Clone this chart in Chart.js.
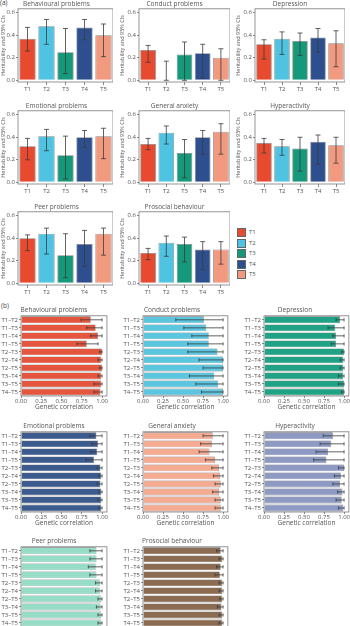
<!DOCTYPE html>
<html>
<head>
<meta charset="utf-8">
<script src="https://cdn.jsdelivr.net/npm/chart.js@4.4.1/dist/chart.umd.min.js"></script>
<style>
  body { margin:0; background:#fff; width:350px; height:626px; overflow:hidden; position:relative; font-family:"Open Sans", sans-serif; color:#555; }
  canvas { position:absolute; }
  .tag { position:absolute; font-size:6.5px; color:#444; line-height:8px; }
  .key { position:absolute; width:7px; height:7px; border:0.8px solid #666; }
  .keytxt { position:absolute; font-size:6px; line-height:8px; color:#555; }
</style>
</head>
<body>
<div class="tag" style="left:0;top:-1px">(a)</div>
<div class="tag" style="left:1px;top:302px">(b)</div>
<div id="legend"></div>
<div id="charts"></div>
<script>
// ---- (a) heritability by time point ----
const timepoints = ['T1', 'T2', 'T3', 'T4', 'T5'];
const tpColors = ['#e84a30', '#4fc3e2', '#16987a', '#2d4f8e', '#f29a80'];
const traits = ['Behavioural problems', 'Conduct problems', 'Depression', 'Emotional problems',
  'General anxiety', 'Hyperactivity', 'Peer problems', 'Prosocial behaviour'];
const herTicks = [0, 0.2, 0.4, 0.6];

const herEst = [
  [0.37, 0.48, 0.25, 0.47, 0.40],
  [0.27, 0.00, 0.23, 0.24, 0.20],
  [0.32, 0.37, 0.35, 0.38, 0.33],
  [0.32, 0.41, 0.24, 0.40, 0.41],
  [0.34, 0.44, 0.26, 0.40, 0.45],
  [0.35, 0.32, 0.30, 0.36, 0.33],
  [0.40, 0.44, 0.25, 0.35, 0.44],
  [0.27, 0.36, 0.35, 0.30, 0.30]
];
const herLo = [
  [0.26, 0.32, 0.06, 0.36, 0.21],
  [0.16, 0.00, 0.00, 0.02, 0.00],
  [0.19, 0.23, 0.22, 0.25, 0.12],
  [0.20, 0.28, 0.03, 0.31, 0.21],
  [0.29, 0.34, 0.04, 0.25, 0.25],
  [0.26, 0.24, 0.10, 0.16, 0.17],
  [0.29, 0.26, 0.05, 0.15, 0.25],
  [0.21, 0.24, 0.19, 0.12, 0.17]
];
const herHi = [
  [0.47, 0.54, 0.46, 0.54, 0.50],
  [0.31, 0.17, 0.34, 0.32, 0.28],
  [0.36, 0.43, 0.42, 0.46, 0.44],
  [0.39, 0.47, 0.41, 0.46, 0.48],
  [0.39, 0.50, 0.38, 0.46, 0.52],
  [0.39, 0.38, 0.40, 0.42, 0.40],
  [0.43, 0.49, 0.44, 0.47, 0.49],
  [0.31, 0.42, 0.41, 0.37, 0.37]
];

// ---- (b) genetic correlations between time points ----
const pairs = ['T1–T2', 'T1–T3', 'T1–T4', 'T1–T5', 'T2–T3', 'T2–T4', 'T2–T5', 'T3–T4', 'T3–T5', 'T4–T5'];
const rgColors = ['#e5563f', '#5cc5df', '#1fa384', '#3c5b8f', '#f5ab92', '#8d9bc4', '#97dcc6', '#8b6b51'];
const rgTicks = [0, 0.25, 0.5, 0.75, 1];

const rgEst = [
  [0.86, 0.92, 0.95, 0.81, 1.00, 0.99, 1.00, 0.99, 0.99, 0.98],
  [0.76, 0.79, 0.82, 0.82, 0.93, 1.00, 1.00, 0.89, 0.94, 1.00],
  [0.95, 0.89, 0.90, 0.90, 1.00, 0.99, 0.99, 0.99, 1.00, 1.00],
  [0.93, 0.95, 0.94, 0.90, 0.98, 0.99, 0.98, 0.99, 0.99, 0.99],
  [0.87, 0.86, 0.83, 0.90, 0.95, 0.96, 0.97, 0.95, 0.97, 0.97],
  [0.86, 0.84, 0.80, 0.78, 1.00, 0.96, 0.95, 0.98, 0.97, 0.99],
  [0.93, 0.93, 0.92, 0.93, 0.97, 0.97, 0.99, 0.98, 0.99, 0.99],
  [0.97, 0.99, 0.97, 0.96, 0.99, 0.99, 0.99, 0.98, 0.99, 0.99]
];
const rgLo = [
  [0.74, 0.81, 0.86, 0.69, 0.97, 0.95, 0.97, 0.95, 0.90, 0.90],
  [0.41, 0.51, 0.61, 0.56, 0.56, 0.70, 0.75, 0.58, 0.66, 0.73],
  [0.90, 0.80, 0.86, 0.84, 0.97, 0.95, 0.95, 0.93, 0.93, 0.97],
  [0.85, 0.87, 0.86, 0.80, 0.94, 0.96, 0.94, 0.96, 0.95, 0.96],
  [0.75, 0.72, 0.70, 0.78, 0.86, 0.88, 0.90, 0.87, 0.90, 0.90],
  [0.74, 0.70, 0.65, 0.62, 0.93, 0.88, 0.86, 0.92, 0.90, 0.93],
  [0.85, 0.85, 0.83, 0.85, 0.92, 0.92, 0.95, 0.93, 0.95, 0.95],
  [0.92, 0.95, 0.92, 0.90, 0.95, 0.95, 0.96, 0.93, 0.95, 0.95]
];
const rgHi = [
  [1.00, 1.00, 1.00, 0.95, 1.00, 1.00, 1.00, 1.00, 1.00, 1.00],
  [1.00, 1.00, 1.00, 1.00, 1.00, 1.00, 1.00, 1.00, 1.00, 1.00],
  [1.00, 1.00, 1.00, 1.00, 1.00, 1.00, 1.00, 1.00, 1.00, 1.00],
  [1.00, 1.00, 1.00, 1.00, 1.00, 1.00, 1.00, 1.00, 1.00, 1.00],
  [1.00, 1.00, 1.00, 1.00, 1.00, 1.00, 1.00, 1.00, 1.00, 1.00],
  [1.00, 1.00, 1.00, 1.00, 1.00, 1.00, 1.00, 1.00, 1.00, 1.00],
  [1.00, 1.00, 1.00, 1.00, 1.00, 1.00, 1.00, 1.00, 1.00, 1.00],
  [1.00, 1.00, 1.00, 1.00, 1.00, 1.00, 1.00, 1.00, 1.00, 1.00]
];

Chart.defaults.font.family = '"Open Sans", "DejaVu Sans", sans-serif';
Chart.defaults.color = '#555';
Chart.defaults.animation = false;

// box round the plot area
const frameBox = {
  id: 'frameBox',
  afterDatasetsDraw(chart) {
    const a = chart.chartArea, ctx = chart.ctx;
    ctx.save();
    ctx.strokeStyle = '#7a7a7a';
    ctx.lineWidth = 0.8;
    ctx.strokeRect(a.left, a.top, a.right - a.left, a.bottom - a.top);
    ctx.restore();
  }
};

// confidence intervals, drawn from the value scale
const errBars = {
  id: 'errBars',
  afterDatasetsDraw(chart, args, opts) {
    if (!opts || !opts.lo) return;
    const horiz = chart.options.indexAxis === 'y';
    const vs = horiz ? chart.scales.x : chart.scales.y;
    const meta = chart.getDatasetMeta(0);
    const ctx = chart.ctx;
    ctx.save();
    ctx.strokeStyle = '#3b3b3b';
    ctx.lineWidth = 0.8;
    meta.data.forEach((bar, i) => {
      const a = vs.getPixelForValue(opts.lo[i]);
      const b = vs.getPixelForValue(opts.hi[i]);
      const c = horiz ? bar.y : bar.x;
      const cap = opts.cap;
      ctx.beginPath();
      if (horiz) {
        ctx.moveTo(a, c); ctx.lineTo(b, c);
        ctx.moveTo(a, c - cap); ctx.lineTo(a, c + cap);
        ctx.moveTo(b, c - cap); ctx.lineTo(b, c + cap);
      } else {
        ctx.moveTo(c, a); ctx.lineTo(c, b);
        ctx.moveTo(c - cap, a); ctx.lineTo(c + cap, a);
        ctx.moveTo(c - cap, b); ctx.lineTo(c + cap, b);
      }
      ctx.stroke();
    });
    ctx.restore();
  }
};

function addCanvas(left, top, w, h) {
  const c = document.createElement('canvas');
  c.width = w; c.height = h;
  c.style.left = left + 'px';
  c.style.top = top + 'px';
  document.getElementById('charts').appendChild(c);
  return c;
}

function makeHer(k, left, top, w, yw) {
  const cv = addCanvas(left, top, w, 95);
  new Chart(cv, {
    type: 'bar',
    data: {
      labels: timepoints,
      datasets: [{
        data: herEst[k],
        backgroundColor: tpColors,
        borderColor: '#858585',
        borderWidth: 0.8,
        barPercentage: 0.86,
        categoryPercentage: 1
      }]
    },
    options: {
      responsive: false,
      plugins: {
        legend: { display: false },
        tooltip: { enabled: false },
        title: { display: true, text: traits[k], font: { size: 6.5, weight: 'normal' }, color: '#555', padding: { top: 0, bottom: 1 } },
        errBars: { lo: herLo[k], hi: herHi[k], cap: 2.5 }
      },
      scales: {
        x: {
          grid: { display: true, drawOnChartArea: false, offset: false, tickLength: 3, color: '#888' },
          border: { display: false },
          ticks: { font: { size: 6 }, padding: 1, maxRotation: 0 },
          afterFit: s => { s.height = 13; }
        },
        y: {
          min: -0.015, max: 0.635,
          afterBuildTicks: s => { s.ticks = herTicks.map(v => ({ value: v })); },
          grid: { display: true, drawOnChartArea: false, tickLength: 2, color: '#888' },
          border: { display: false },
          ticks: { font: { size: 6 }, padding: 1, callback: v => v.toFixed(1) },
          title: { display: true, text: 'Heritability and 95% CIs', font: { size: 5.5 }, padding: 0, color: '#555' },
          afterFit: s => { s.width = yw; }
        }
      }
    },
    plugins: [frameBox, errBars]
  });
}

function makeRg(k, left, top, w, yw) {
  const cv = addCanvas(left, top, w, 106);
  new Chart(cv, {
    type: 'bar',
    data: {
      labels: pairs,
      datasets: [{
        data: rgEst[k],
        backgroundColor: rgColors[k],
        borderColor: '#6f6f6f',
        borderWidth: 0.6,
        barPercentage: 0.86,
        categoryPercentage: 1
      }]
    },
    options: {
      indexAxis: 'y',
      responsive: false,
      plugins: {
        legend: { display: false },
        tooltip: { enabled: false },
        title: { display: true, text: traits[k], font: { size: 6.5, weight: 'normal' }, color: '#555', padding: { top: 1, bottom: 2 } },
        errBars: { lo: rgLo[k], hi: rgHi[k], cap: 1.6 }
      },
      scales: {
        x: {
          min: 0, max: 1.06,
          afterBuildTicks: s => { s.ticks = rgTicks.map(v => ({ value: v })); },
          grid: { display: true, drawOnChartArea: false, tickLength: 2, color: '#888' },
          border: { display: false },
          ticks: { font: { size: 6 }, padding: 0, maxRotation: 0, callback: v => v.toFixed(2) },
          title: { display: true, text: 'Genetic correlation', font: { size: 6.5 }, padding: 0, color: '#555' },
          afterFit: s => { s.height = 15; }
        },
        y: {
          grid: { display: true, drawOnChartArea: false, offset: false, tickLength: 2, color: '#888' },
          border: { display: false },
          ticks: { font: { size: 6 }, padding: 1, autoSkip: false },
          afterFit: s => { s.width = yw; }
        }
      }
    },
    plugins: [frameBox, errBars]
  });
}

// (a) grid of bar charts
const herCols = [[0, 113, 18], [119, 111, 20], [235, 110, 20]];
const herRows = [0, 102, 203];
for (let k = 0; k < 8; k++) {
  const c = herCols[k % 3], top = herRows[Math.floor(k / 3)];
  makeHer(k, c[0], top, c[1], c[2]);
}

// (b) grid of horizontal bar charts
const rgCols = [[0, 108, 21], [115, 114, 28], [240, 110, 24]];
const rgRows = [305, 421, 536];
for (let k = 0; k < 8; k++) {
  const c = rgCols[k % 3], top = rgRows[Math.floor(k / 3)];
  makeRg(k, c[0], top, c[1], c[2]);
}

// legend for panel (a)
const lg = document.getElementById('legend');
timepoints.forEach((t, i) => {
  const y = 228 + i * 10.5;
  const sq = document.createElement('div');
  sq.className = 'key';
  sq.style.left = '237px'; sq.style.top = y + 'px';
  sq.style.background = tpColors[i];
  lg.appendChild(sq);
  const tx = document.createElement('div');
  tx.className = 'keytxt';
  tx.style.left = '249px'; tx.style.top = y + 'px';
  tx.textContent = t;
  lg.appendChild(tx);
});
</script>
</body>
</html>
